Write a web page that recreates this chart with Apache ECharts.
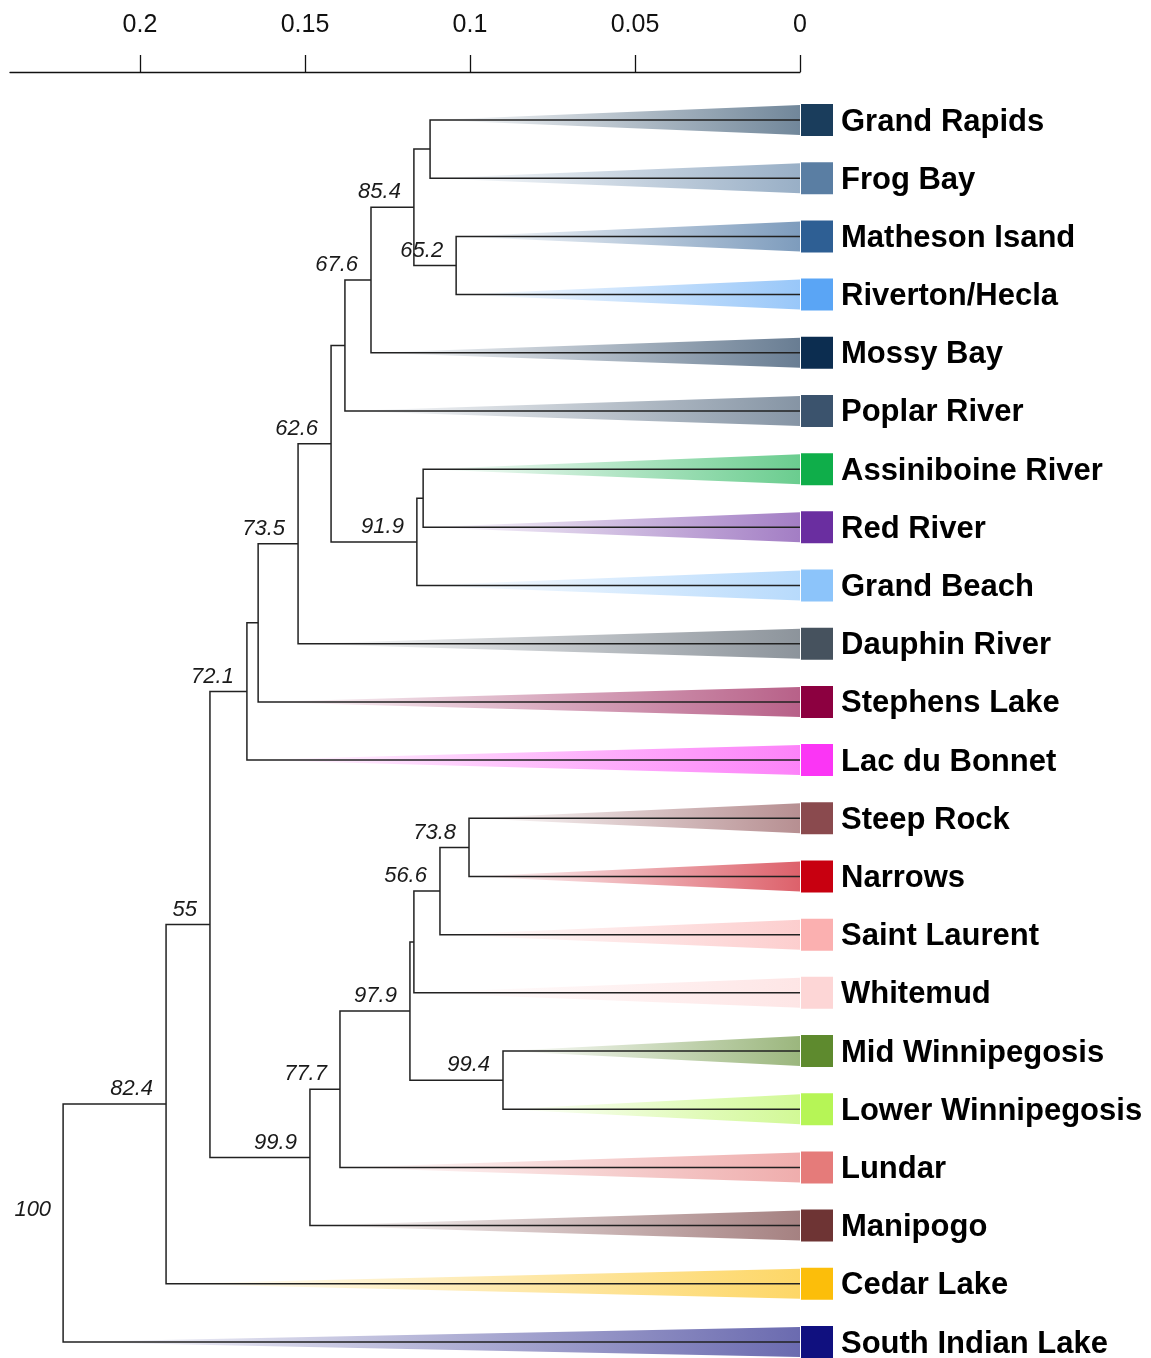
<!DOCTYPE html>
<html>
<head>
<meta charset="utf-8">
<script src="https://cdn.jsdelivr.net/npm/echarts@6/dist/echarts.min.js"></script>
<style>
html, body { margin: 0; padding: 0; background: #fff; }
#tree { width: 1151px; height: 1358px; }
</style>
</head>
<body>
<div id="tree"></div>
<script>
// leaves, top to bottom
const leafNames = [
    'Grand Rapids', 'Frog Bay', 'Matheson Isand', 'Riverton/Hecla', 'Mossy Bay',
    'Poplar River', 'Assiniboine River', 'Red River', 'Grand Beach', 'Dauphin River',
    'Stephens Lake', 'Lac du Bonnet', 'Steep Rock', 'Narrows', 'Saint Laurent',
    'Whitemud', 'Mid Winnipegosis', 'Lower Winnipegosis', 'Lundar', 'Manipogo',
    'Cedar Lake', 'South Indian Lake'
];
const leafColors = [
    '#1a3d5c', '#5a7ea3', '#2e5f94', '#5aa5f5', '#0c2d50',
    '#3b536d', '#0fae4a', '#6a2ea0', '#8cc4fa', '#46525e',
    '#8c0040', '#fb35f5', '#8a4a4e', '#c80010', '#fbb0b0',
    '#fdd6d6', '#5e8a2e', '#b6f556', '#e57b7a', '#6e3434',
    '#fcbe0a', '#10107f'
];

// internal nodes: children, height (distance), bootstrap support
const nodeIds = ['n0', 'n1', 'n2', 'n3', 'n4', 'n5', 'n6', 'n7', 'n8', 'n9', 'n10',
    'n11', 'n12', 'n13', 'n14', 'n15', 'n16', 'n17', 'n18', 'n19', 'n20'];
const nodeKids = [
    ['Grand Rapids', 'Frog Bay'],
    ['Matheson Isand', 'Riverton/Hecla'],
    ['n0', 'n1'],
    ['n2', 'Mossy Bay'],
    ['n3', 'Poplar River'],
    ['Assiniboine River', 'Red River'],
    ['n5', 'Grand Beach'],
    ['n4', 'n6'],
    ['n7', 'Dauphin River'],
    ['n8', 'Stephens Lake'],
    ['n9', 'Lac du Bonnet'],
    ['Steep Rock', 'Narrows'],
    ['n11', 'Saint Laurent'],
    ['n12', 'Whitemud'],
    ['Mid Winnipegosis', 'Lower Winnipegosis'],
    ['n13', 'n14'],
    ['n15', 'Lundar'],
    ['n16', 'Manipogo'],
    ['n10', 'n17'],
    ['n18', 'Cedar Lake'],
    ['n19', 'South Indian Lake']
];
const nodeHeights = [0.1121, 0.1042, 0.1170, 0.1300, 0.1379, 0.1142, 0.1161, 0.1421,
    0.1521, 0.1642, 0.1676, 0.1003, 0.1091, 0.1170, 0.0900, 0.1182, 0.1394, 0.1485,
    0.1788, 0.1921, 0.2233];
const nodeSupport = ['', '65.2', '85.4', '67.6', '', '', '91.9', '62.6', '73.5', '',
    '72.1', '73.8', '56.6', '', '99.4', '97.9', '77.7', '99.9', '55', '82.4', '100'];

const tickValues = [0, 0.05, 0.1, 0.15, 0.2];

// layout: leaf rows by index, node row = mean of its two children
const pos = {};
leafNames.forEach((n, i) => { pos[n] = { h: 0, y: i }; });
const parentH = {};
nodeIds.forEach((id, k) => {
    const a = pos[nodeKids[k][0]], b = pos[nodeKids[k][1]];
    pos[id] = { h: nodeHeights[k], y: (a.y + b.y) / 2 };
    parentH[nodeKids[k][0]] = nodeHeights[k];
    parentH[nodeKids[k][1]] = nodeHeights[k];
});

const branchData = nodeIds.map((id, k) => {
    const a = pos[nodeKids[k][0]], b = pos[nodeKids[k][1]];
    return [pos[id].h, pos[id].y, a.h, a.y, b.h, b.y, k];
});
const wedgeData = leafNames.map((n, i) => [parentH[n], i, i]);
const leafData = leafNames.map((n, i) => [0, i, i]);

const rgba = (hex, a) => {
    const v = parseInt(hex.slice(1), 16);
    return 'rgba(' + (v >> 16) + ',' + ((v >> 8) & 255) + ',' + (v & 255) + ',' + a + ')';
};

const renderWedge = (params, api) => {
    const i = api.value(2);
    const tip = api.coord([api.value(0), api.value(1)]);
    const end = api.coord([0, api.value(1)]);
    return {
        type: 'polygon',
        shape: { points: [tip, [end[0], end[1] - 15], [end[0], end[1] + 15]] },
        style: {
            fill: {
                type: 'linear', x: 0, y: 0, x2: 1, y2: 0,
                colorStops: [
                    { offset: 0, color: rgba(leafColors[i], 0) },
                    { offset: 1, color: rgba(leafColors[i], 0.62) }
                ]
            }
        }
    };
};

const renderBranch = (params, api) => {
    const k = api.value(6);
    const n = api.coord([api.value(0), api.value(1)]);
    const a = api.coord([api.value(2), api.value(3)]);
    const b = api.coord([api.value(4), api.value(5)]);
    const children = [{
        type: 'polyline',
        shape: { points: [[a[0], a[1]], [n[0], a[1]], [n[0], b[1]], [b[0], b[1]]] },
        style: { stroke: '#222', lineWidth: 1.5, fill: null }
    }];
    const s = nodeSupport[k];
    if (s) {
        const isRoot = k === nodeIds.length - 1;
        children.push({
            type: 'text',
            style: {
                text: s,
                x: n[0] - (isRoot ? 12 : 13),
                y: isRoot ? n[1] - 13 : n[1] - 4,
                align: 'right',
                verticalAlign: isRoot ? 'middle' : 'bottom',
                font: 'italic 22px "Liberation Sans", Arial, sans-serif',
                fill: '#1a1a1a'
            }
        });
    }
    return { type: 'group', children: children };
};

const renderLeaf = (params, api) => {
    const i = api.value(2);
    const p = api.coord([0, api.value(1)]);
    return {
        type: 'group',
        children: [
            {
                type: 'rect',
                shape: { x: p[0] + 1, y: p[1] - 16, width: 32, height: 32 },
                style: { fill: leafColors[i] }
            },
            {
                type: 'text',
                style: {
                    text: leafNames[i],
                    x: p[0] + 41, y: p[1] + 2,
                    align: 'left', verticalAlign: 'middle',
                    font: 'bold 31px "Liberation Sans", Arial, sans-serif',
                    fill: '#000'
                }
            }
        ]
    };
};

const graph = echarts.init(document.getElementById('tree'));

const option = {
    animation: false,
    backgroundColor: '#fff',
    grid: { left: 10, right: 351, top: 120, bottom: 16 },
    xAxis: {
        type: 'value',
        position: 'top',
        offset: 48,
        inverse: true,
        min: 0,
        max: 0.23939,
        axisLine: { show: true, onZero: false, lineStyle: { color: '#111', width: 1.3 } },
        axisTick: { show: true, length: 17, customValues: tickValues, lineStyle: { color: '#111', width: 1.3 } },
        axisLabel: {
            customValues: tickValues,
            margin: 34,
            fontSize: 25,
            color: '#111',
            fontFamily: '"Liberation Sans", Arial, sans-serif',
            formatter: v => String(v)
        },
        splitLine: { show: false }
    },
    yAxis: {
        type: 'value',
        inverse: true,
        min: 0,
        max: 21,
        show: false
    },
    series: [
        {
            name: 'wedges',
            type: 'custom',
            renderItem: renderWedge,
            data: wedgeData,
            z: 1,
            silent: true
        },
        {
            name: 'branches',
            type: 'custom',
            renderItem: renderBranch,
            data: branchData,
            z: 2,
            silent: true
        },
        {
            name: 'leaves',
            type: 'custom',
            renderItem: renderLeaf,
            data: leafData,
            z: 3,
            silent: true
        }
    ]
};

graph.setOption(option);
</script>
</body>
</html>
